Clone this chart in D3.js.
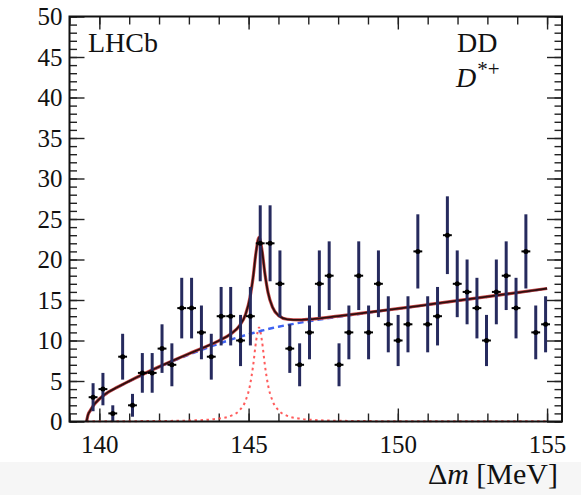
<!DOCTYPE html>
<html><head><meta charset="utf-8">
<script src="https://cdn.jsdelivr.net/npm/d3@7"></script>
<style>
html,body{margin:0;padding:0;background:#fff;}
svg{display:block;}
text{font-family:"Liberation Serif","Times New Roman",serif;fill:#111;}
</style></head>
<body>
<svg id="chart" width="581" height="495"></svg>
<script>
// ---- data ----
const binCenters = [139.79,140.12,140.45,140.78,141.11,141.44,141.77,142.10,142.43,142.76,143.09,143.42,143.75,144.08,144.40,144.73,145.06,145.39,145.72,146.05,146.38,146.71,147.04,147.37,147.70,148.03,148.36,148.69,149.02,149.35,149.68,150.01,150.34,150.67,151.00,151.33,151.66,151.99,152.32,152.65,152.97,153.30,153.63,153.96,154.29,154.62,154.95];
const counts = [3,4,1,8,2,6,6,9,7,14,14,11,8,13,13,10,13,22,22,17,9,7,11,17,18,7,11,18,11,17,12,10,12,21,12,13,23,17,16,14,10,16,18,14,21,11,12];
const errors = [1.73,2,1,2.83,1.41,2.45,2.45,3,2.65,3.74,3.74,3.32,2.83,3.61,3.61,3.16,3.61,4.69,4.69,4.12,3,2.65,3.32,4.12,4.24,2.65,3.32,4.24,3.32,4.12,3.46,3.16,3.46,4.58,3.46,3.61,4.8,4.12,4,3.74,3.16,4,4.24,3.74,4.58,3.32,3.46];
const binWidth = 0.33;

const curveX = [139.57,139.62,139.7,139.8,140.0,140.3,140.6,141.0,141.5,142.0,142.5,143.0,143.5,144.0,144.4,144.7,144.9,145.05,145.15,145.25,145.35,145.45,145.55,145.65,145.8,146.0,146.3,146.7,147.2,148,149,150,151,152,153,154,155];
const bgY     = [0,0.8,1.35,1.95,2.75,3.6,4.2,4.95,5.85,6.7,7.5,8.25,8.95,9.6,10.1,10.45,10.67,10.83,10.93,11.03,11.13,11.23,11.32,11.41,11.54,11.7,11.92,12.18,12.48,12.92,13.42,13.9,14.4,14.9,15.4,15.9,16.4];
const sigY    = [0.02,0.02,0.02,0.02,0.03,0.03,0.03,0.04,0.05,0.06,0.08,0.12,0.19,0.36,0.70,1.39,2.57,4.53,6.85,9.88,11.6,9.88,6.85,4.53,2.57,1.39,0.70,0.36,0.19,0.094,0.05,0.03,0.02,0.02,0.02,0.02,0.02];
const totalY  = [0,0.82,1.37,1.97,2.78,3.63,4.23,4.99,5.9,6.76,7.58,8.37,9.14,9.96,10.8,11.84,13.24,15.36,17.78,20.91,22.73,21.11,18.17,15.94,14.11,13.09,12.62,12.54,12.67,13.01,13.47,13.93,14.42,14.92,15.42,15.92,16.42];

const xMajorTicks = [140,145,150,155];
const yMajorTicks = [0,5,10,15,20,25,30,35,40,45,50];

// ---- layout ----
const svg = d3.select("#chart");
const X0 = 69.5, X1 = 562, Y0 = 421.5, Y1 = 16.5;
const x = d3.scaleLinear().domain([139,155.5]).range([X0,X1]);
const y = d3.scaleLinear().domain([0,50]).range([Y0,Y1]);

svg.append("rect").attr("x",0).attr("y",462).attr("width",581).attr("height",33).attr("fill","#f6f6f6");

const xMinor = d3.range(139,156,1);
const yMinor = d3.range(0,51,1);

function styleAxis(g){
  g.select(".domain").remove();
  g.selectAll(".tick line").attr("stroke","#222").attr("stroke-width",1.4);
}
// bottom
svg.append("g").attr("transform",`translate(0,${Y0})`)
  .call(d3.axisBottom(x).tickValues(xMinor).tickSizeInner(-8).tickSizeOuter(0).tickFormat(""))
  .call(styleAxis);
svg.append("g").attr("transform",`translate(0,${Y0})`)
  .call(d3.axisBottom(x).tickValues(xMajorTicks).tickSizeInner(-13).tickSizeOuter(0).tickPadding(14).tickFormat(d3.format("d")))
  .call(styleAxis)
  .call(g=>g.selectAll("text").attr("font-size",25).attr("fill","#111"));
// top
svg.append("g").attr("transform",`translate(0,${Y1})`)
  .call(d3.axisTop(x).tickValues(xMinor).tickSizeInner(-8).tickSizeOuter(0).tickFormat(""))
  .call(styleAxis);
svg.append("g").attr("transform",`translate(0,${Y1})`)
  .call(d3.axisTop(x).tickValues(xMajorTicks).tickSizeInner(-13).tickSizeOuter(0).tickFormat(""))
  .call(styleAxis);
// left
svg.append("g").attr("transform",`translate(${X0},0)`)
  .call(d3.axisLeft(y).tickValues(yMinor).tickSizeInner(-7.5).tickSizeOuter(0).tickFormat(""))
  .call(styleAxis);
svg.append("g").attr("transform",`translate(${X0},0)`)
  .call(d3.axisLeft(y).tickValues(yMajorTicks).tickSizeInner(-15).tickSizeOuter(0).tickPadding(7).tickFormat(d3.format("d")))
  .call(styleAxis)
  .call(g=>g.selectAll("text").attr("font-size",25).attr("fill","#111"));
// right
svg.append("g").attr("transform",`translate(${X1},0)`)
  .call(d3.axisRight(y).tickValues(yMinor).tickSizeInner(-7.5).tickSizeOuter(0).tickFormat(""))
  .call(styleAxis);
svg.append("g").attr("transform",`translate(${X1},0)`)
  .call(d3.axisRight(y).tickValues(yMajorTicks).tickSizeInner(-15).tickSizeOuter(0).tickFormat(""))
  .call(styleAxis);

// ---- curves ----
const pts = (ys)=>curveX.map((cx,i)=>[cx,ys[i]]);
const line = d3.line().x(d=>x(d[0])).y(d=>y(d[1])).curve(d3.curveMonotoneX);

svg.append("path").attr("d",line(pts(sigY))).attr("fill","none")
  .attr("stroke","#ff4a4a").attr("stroke-width",2).attr("stroke-dasharray","2.5,3.5").attr("opacity",0.9);
svg.append("path").attr("d",line(pts(bgY))).attr("fill","none")
  .attr("stroke","#3f63f2").attr("stroke-width",2.4).attr("stroke-dasharray","6,4");
svg.append("path").attr("d",line(pts(totalY))).attr("fill","none")
  .attr("stroke","#c84848").attr("stroke-width",3.2);
svg.append("path").attr("d",line(pts(totalY))).attr("fill","none")
  .attr("stroke","#2e0f0f").attr("stroke-width",1.8);

// ---- data points ----
const dg = svg.append("g");
binCenters.forEach((c,i)=>{
  const v = counts[i], e = errors[i];
  dg.append("line").attr("x1",x(c)).attr("x2",x(c)).attr("y1",y(v-e)).attr("y2",y(v+e))
    .attr("stroke","#262a5e").attr("stroke-width",3);
  dg.append("line").attr("x1",x(c-binWidth/2)+0.5).attr("x2",x(c+binWidth/2)-0.5).attr("y1",y(v)).attr("y2",y(v))
    .attr("stroke","#000").attr("stroke-width",2);
  dg.append("circle").attr("cx",x(c)).attr("cy",y(v)).attr("r",2.5).attr("fill","#000");
});

// ---- frame ----
svg.append("rect").attr("x",X0).attr("y",Y1).attr("width",X1-X0).attr("height",Y0-Y1)
  .attr("fill","none").attr("stroke","#111").attr("stroke-width",2);

// ---- texts ----
svg.append("text").attr("x",88).attr("y",52).attr("font-size",28).text("LHCb");
svg.append("text").attr("x",457).attr("y",52).attr("font-size",28).text("DD");
const ds = svg.append("text").attr("x",456).attr("y",87).attr("font-size",28);
ds.append("tspan").attr("font-style","italic").text("D");
ds.append("tspan").attr("font-size",21).attr("dy",-11).attr("dx",1).text("*+");

const xl = svg.append("text").attr("x",558).attr("y",484).attr("font-size",30).attr("text-anchor","end");
xl.append("tspan").text("Δ");
xl.append("tspan").attr("font-style","italic").text("m");
xl.append("tspan").text(" [MeV]");
</script>
</body></html>
